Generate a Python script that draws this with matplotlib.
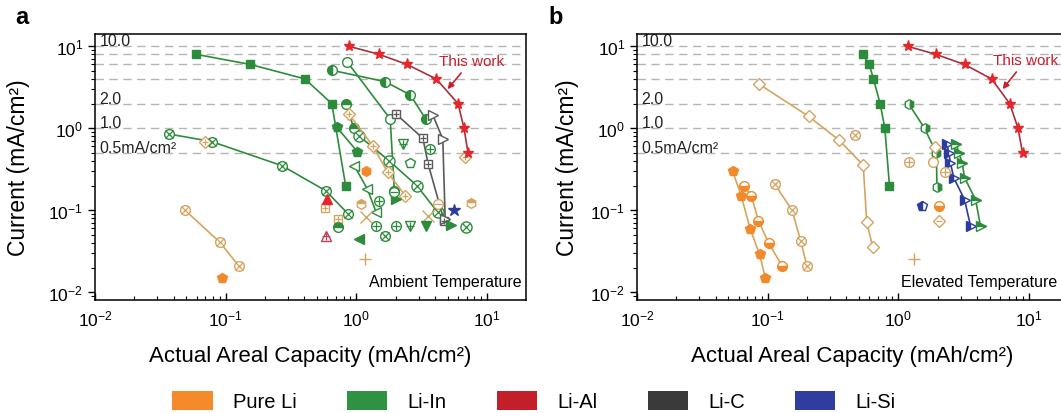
import numpy as np
import matplotlib
matplotlib.use('Agg')
import matplotlib.pyplot as plt
from matplotlib.patches import Patch

plt.rcParams['font.family'] = ['Liberation Sans', 'DejaVu Sans']
plt.rcParams['mathtext.fontset'] = 'custom'
plt.rcParams['mathtext.rm'] = 'Liberation Sans'
plt.rcParams['mathtext.it'] = 'Liberation Sans:italic'
plt.rcParams['mathtext.bf'] = 'Liberation Sans:bold'

# ---------------- data (capacity mAh/cm2, current mA/cm2) ----------------
grid_currents = [10, 8, 6, 4, 2, 1, 0.5]
grid_labels = {10: '10.0', 2: '2.0', 1: '1.0', 0.5: '0.5mA/cm²'}

# panel a - ambient temperature
a_this_x = [0.88, 1.49, 2.45, 4.10, 6.02, 6.69, 7.18]
a_this_y = [10, 8, 6, 4, 2, 1, 0.5]
a_in_sq_x = [0.059, 0.155, 0.405, 0.65, 0.83]
a_in_sq_y = [8, 6, 4, 2, 0.2]
a_in_ox_x = [0.037, 0.078, 0.27, 0.585, 0.87]
a_in_ox_y = [0.85, 0.69, 0.35, 0.173, 0.09]
a_in_circ_x = [0.857, 1.82, 1.96]
a_in_circ_y = [6.4, 1.3, 0.17]
a_in_half_x = [0.65, 1.67, 2.6, 3.4]
a_in_half_y = [5.1, 3.7, 2.55, 1.3]
a_in_top_x = [0.83, 0.96]
a_in_top_y = [2, 1]
a_in_bx_x = [1.05, 1.79, 2.91, 4.2]
a_in_bx_y = [0.81, 0.40, 0.2, 0.095]
a_in_pent_x = [0.71, 1.02]
a_in_pent_y = [1.03, 0.52]
a_in_tri_x = [0.966, 1.22, 1.42]
a_in_tri_y = [0.35, 0.18, 0.095]
a_li_op_x = [0.88, 1.35, 1.74, 2.38]
a_li_op_y = [1.49, 0.6, 0.29, 0.15]
a_li_ox_x = [0.049, 0.09, 0.126]
a_li_ox_y = [0.1, 0.041, 0.021]
a_c_sq_x = [2.02, 3.24, 3.55, 4.7]
a_c_sq_y = [1.49, 0.755, 0.37, 0.075]
a_c_tri_x = [3.86, 4.6, 4.8]
a_c_tri_y = [1.45, 0.74, 0.078]
# single points, panel a
a_li_pent_x, a_li_pent_y = [0.094], [0.015]
a_li_dia_x, a_li_dia_y = [0.07, 6.86], [0.675, 0.443]
a_li_sqp_x, a_li_sqp_y = [0.58, 0.72], [0.106, 0.078]
a_li_hexf_x, a_li_hexf_y = [1.19], [0.30]
a_li_hexo_x, a_li_hexo_y = [1.09, 7.6], [0.119, 0.123]
a_li_x_x, a_li_x_y = [1.19, 3.53], [0.082, 0.086]
a_li_plus_x, a_li_plus_y = [1.17], [0.0255]
a_li_om_x, a_li_om_y = [4.22], [0.12]
a_al_tri_x, a_al_tri_y = [0.60], [0.137]
a_al_sp_x, a_al_sp_y = [0.585], [0.048]
a_in_top1_x, a_in_top1_y = [0.73], [0.062]
a_in_lt_x, a_in_lt_y = [1.05], [0.045]
a_in_op_x, a_in_op_y = [1.5, 1.43, 2.02, 3.65], [0.13, 0.065, 0.064, 0.56]
a_in_ox1_x, a_in_ox1_y = [1.67], [0.048]
a_in_rt_x, a_in_rt_y = [2.02, 5.35], [0.137, 0.066]
a_in_om_x, a_in_om_y = [1.96], [0.166]
a_in_dn_x, a_in_dn_y = [2.56, 2.27], [0.064, 0.64]
a_in_dnf_x, a_in_dnf_y = [3.4], [0.064]
a_in_po_x, a_in_po_y = [2.56], [0.38]
a_in_bx1_x, a_in_bx1_y = [6.9], [0.062]
a_si_x, a_si_y = [5.57], [0.102]

# panel b - elevated temperature
b_this_x = [1.18, 1.93, 3.22, 5.19, 7.14, 8.27, 8.95]
b_this_y = [10, 8, 6, 4, 2, 1, 0.5]
b_in_sq_x = [0.534, 0.60, 0.646, 0.727, 0.79, 0.857]
b_in_sq_y = [8, 6, 4, 2, 1, 0.2]
b_li_dia_x = [0.0857, 0.206, 0.355, 0.54, 0.574, 0.639]
b_li_dia_y = [3.47, 1.4, 0.71, 0.354, 0.0714, 0.0354]
b_li_pent_x = [0.054, 0.0628, 0.0736, 0.0868, 0.096]
b_li_pent_y = [0.3, 0.15, 0.059, 0.029, 0.015]
b_li_top_x = [0.0654, 0.075, 0.085, 0.1018, 0.129]
b_li_top_y = [0.2, 0.15, 0.075, 0.04, 0.021]
b_li_ox_x = [0.113, 0.154, 0.179, 0.2]
b_li_ox_y = [0.21, 0.1, 0.0426, 0.021]
b_in_hex_x = [1.2, 1.59, 1.96, 1.98]
b_in_hex_y = [2, 1, 0.5, 0.19]
b_si_tri_x = [2.37, 2.44, 2.51, 2.66, 3.22, 3.58]
b_in_tri_x = [2.79, 2.91, 3.09, 3.22, 3.91, 4.27]
b_tri_y = [0.64, 0.5, 0.38, 0.25, 0.135, 0.064]
b_li_ox1_x, b_li_ox1_y = [0.467], [0.83]
b_li_op_x, b_li_op_y = [1.22, 2.27], [0.39, 0.296]
b_li_dia1_x, b_li_dia1_y = [1.92], [0.59]
b_li_circ_x, b_li_circ_y = [1.85], [0.39]
b_si_pent_x, b_si_pent_y = [1.52], [0.112]
b_li_top1_x, b_li_top1_y = [2.04], [0.112]
b_li_dm_x, b_li_dm_y = [2.04], [0.075]
b_li_plus_x, b_li_plus_y = [1.33], [0.0255]

legend_names = ['Pure Li', 'Li-In', 'Li-Al', 'Li-C', 'Li-Si']
legend_colors = ['#F58A2B', '#2F9142', '#C21F2B', '#3A3A3A', '#2F3E9E']

ORANGE = '#F28A2B'
TAN = '#D6A461'
GREEN = '#2C8C3C'
RED = '#E5262A'
DARKRED = '#A5303F'
GRAY = '#5A5A5A'
BLUE = '#2B3C9C'


def serie(ax, x, y, color, marker='o', face='white', inner=None, line=True,
          lc=None, ms=7, z=3):
    kw = dict(marker=marker, ms=ms, mec=color, mew=1.0, zorder=z)
    if face == 'full':
        kw['mfc'] = color
    elif face == 'white':
        kw['mfc'] = 'white'
    else:
        kw['mfc'] = color
        kw['fillstyle'] = face
        kw['markerfacecoloralt'] = 'white'
    ax.plot(x, y, ls='-' if line else 'none', lw=1.2, color=lc or color, **kw)
    if inner:
        ax.plot(x, y, ls='none', marker=inner, ms=ms * 0.75, color=color,
                mew=0.9, zorder=z + 0.1)


fig = plt.figure(figsize=(10.61, 4.14), dpi=100)
ax_a = fig.add_axes([95 / 1061, 113 / 414, 431 / 1061, 266 / 414])
ax_b = fig.add_axes([637 / 1061, 113 / 414, 431 / 1061, 266 / 414])

for ax in (ax_a, ax_b):
    ax.set_xscale('log')
    ax.set_yscale('log')
    ax.set_xlim(1e-2, 10 ** 1.3)
    ax.set_ylim(10 ** -2.094, 10 ** 1.15)
    for c in grid_currents:
        ax.axhline(c, color='#B5B5B5', lw=1.0, ls=(0, (6, 4)), zorder=1)
    for c, t in grid_labels.items():
        ax.text(0.0108, c * 1.03, t, fontsize=11.5, va='baseline', ha='left',
                color='#222222', zorder=2)
    ax.tick_params(axis='x', which='both', direction='in', labelsize=12.5, pad=6)
    ax.tick_params(axis='y', which='both', direction='out', labelsize=12.5)
    ax.tick_params(which='major', length=5, width=1)
    ax.tick_params(which='minor', length=3, width=0.8)
    for s in ax.spines.values():
        s.set_linewidth(1.1)
    ax.set_xlabel('Actual Areal Capacity (mAh/cm²)', fontsize=16)
    ax.set_ylabel('Current (mA/cm²)', fontsize=16.5)
    ax.xaxis.set_label_coords(0.5, -0.17)

ax_a.yaxis.set_label_coords(-0.15, 0.5)
ax_b.yaxis.set_label_coords(-0.135, 0.5)

# ---- panel a ----
ax = ax_a
serie(ax, a_in_sq_x, a_in_sq_y, GREEN, 's', 'full', ms=6)
serie(ax, a_in_ox_x, a_in_ox_y, GREEN, 'o', inner='x')
serie(ax, a_in_circ_x, a_in_circ_y, GREEN, 'o')
serie(ax, a_in_half_x, a_in_half_y, GREEN, 'o', 'left')
serie(ax, a_in_top_x, a_in_top_y, GREEN, 'o', 'top')
serie(ax, a_in_bx_x, a_in_bx_y, GREEN, 'o', inner='x', ms=8)
serie(ax, a_in_pent_x, a_in_pent_y, GREEN, 'p', 'full')
serie(ax, a_in_tri_x, a_in_tri_y, GREEN, '<')
serie(ax, a_li_op_x, a_li_op_y, TAN, 'D', inner='+', ms=6)
serie(ax, a_li_ox_x, a_li_ox_y, TAN, 'o', inner='x')
serie(ax, a_c_sq_x, a_c_sq_y, GRAY, 's', inner='+', ms=6)
serie(ax, a_c_tri_x, a_c_tri_y, GRAY, '>')
serie(ax, a_li_pent_x, a_li_pent_y, ORANGE, 'p', 'full', line=False)
serie(ax, a_li_dia_x, a_li_dia_y, TAN, 'D', inner='+', line=False, ms=6)
serie(ax, a_li_sqp_x, a_li_sqp_y, TAN, 's', inner='+', line=False, ms=6)
serie(ax, a_li_hexf_x, a_li_hexf_y, ORANGE, 'h', 'full', line=False)
serie(ax, a_li_hexo_x, a_li_hexo_y, TAN, 'h', 'top', line=False)
serie(ax, a_li_x_x, a_li_x_y, TAN, 'x', line=False, ms=8)
serie(ax, a_li_plus_x, a_li_plus_y, TAN, '+', line=False, ms=8)
serie(ax, a_li_om_x, a_li_om_y, TAN, 'o', inner='_', line=False)
serie(ax, a_al_tri_x, a_al_tri_y, RED, '^', 'full', line=False)
serie(ax, a_al_sp_x, a_al_sp_y, '#C0405A', '^', inner='+', line=False)
serie(ax, a_in_top1_x, a_in_top1_y, GREEN, 'o', 'top', line=False)
serie(ax, a_in_lt_x, a_in_lt_y, GREEN, '<', 'full', line=False)
serie(ax, a_in_op_x, a_in_op_y, GREEN, 'o', inner='+', line=False)
serie(ax, a_in_ox1_x, a_in_ox1_y, GREEN, 'o', inner='x', line=False)
serie(ax, a_in_rt_x, a_in_rt_y, GREEN, '>', 'full', line=False)
serie(ax, a_in_om_x, a_in_om_y, GREEN, 'o', inner='_', line=False)
serie(ax, a_in_dn_x, a_in_dn_y, GREEN, 'v', inner='+', line=False)
serie(ax, a_in_dnf_x, a_in_dnf_y, GREEN, 'v', 'full', line=False)
serie(ax, a_in_po_x, a_in_po_y, GREEN, 'p', line=False)
serie(ax, a_in_bx1_x, a_in_bx1_y, GREEN, 'o', inner='x', line=False, ms=8)
serie(ax, a_si_x, a_si_y, BLUE, '*', 'full', line=False, ms=9)
serie(ax, a_this_x, a_this_y, RED, '*', 'full', lc=DARKRED, ms=8, z=6)
ax.annotate('This work', xy=(5.0, 3.0), xytext=(7.6, 6.6), color='#C8202F',
            fontsize=11, ha='center', va='center',
            arrowprops=dict(arrowstyle='-|>', color='#C8202F', lw=1.2,
                            mutation_scale=9, shrinkA=2, shrinkB=0))
ax.text(0.99, 0.068, 'Ambient Temperature', transform=ax.transAxes,
        ha='right', va='center', fontsize=11.5)

# ---- panel b ----
ax = ax_b
serie(ax, b_in_sq_x, b_in_sq_y, GREEN, 's', 'full', ms=6)
serie(ax, b_li_dia_x, b_li_dia_y, TAN, 'D', ms=6.5)
serie(ax, b_li_pent_x, b_li_pent_y, ORANGE, 'p', 'full', lc=TAN)
serie(ax, b_li_top_x, b_li_top_y, ORANGE, 'o', 'bottom', lc=TAN)
serie(ax, b_li_ox_x, b_li_ox_y, TAN, 'o', inner='x')
serie(ax, b_in_hex_x, b_in_hex_y, GREEN, 'h', 'right')
serie(ax, b_si_tri_x, b_tri_y, BLUE, '>', 'left')
serie(ax, b_in_tri_x, b_tri_y, GREEN, '>', 'top')
serie(ax, b_li_ox1_x, b_li_ox1_y, TAN, 'o', inner='x', line=False)
serie(ax, b_li_op_x, b_li_op_y, TAN, 'o', inner='+', line=False)
serie(ax, b_li_dia1_x, b_li_dia1_y, TAN, 'D', line=False, ms=6)
serie(ax, b_li_circ_x, b_li_circ_y, TAN, 'o', line=False)
serie(ax, b_si_pent_x, b_si_pent_y, BLUE, 'p', 'left', line=False)
serie(ax, b_li_top1_x, b_li_top1_y, ORANGE, 'o', 'bottom', line=False)
serie(ax, b_li_dm_x, b_li_dm_y, TAN, 'D', inner='_', line=False, ms=6)
serie(ax, b_li_plus_x, b_li_plus_y, TAN, '+', line=False, ms=8)
serie(ax, b_this_x, b_this_y, RED, '*', 'full', lc=DARKRED, ms=8, z=6)
ax.annotate('This work', xy=(6.3, 3.0), xytext=(9.5, 6.8), color='#C8202F',
            fontsize=11, ha='center', va='center',
            arrowprops=dict(arrowstyle='-|>', color='#C8202F', lw=1.2,
                            mutation_scale=9, shrinkA=2, shrinkB=0))
ax.text(0.975, 0.068, 'Elevated Temperature', transform=ax.transAxes,
        ha='right', va='center', fontsize=11.5)

fig.text(15 / 1061, 1 - 17 / 414, 'a', fontsize=17, fontweight='bold', va='center')
fig.text(548 / 1061, 1 - 17 / 414, 'b', fontsize=17, fontweight='bold', va='center')

handles = [Patch(facecolor=c, edgecolor='none') for c in legend_colors]
fig.legend(handles, legend_names, loc='center', bbox_to_anchor=(534 / 1061, 12 / 414),
           ncol=5, frameon=False, fontsize=14.5, handlelength=2.0, handleheight=1.1,
           handletextpad=1.0, columnspacing=2.5)

fig.savefig('out.png', dpi=100)
